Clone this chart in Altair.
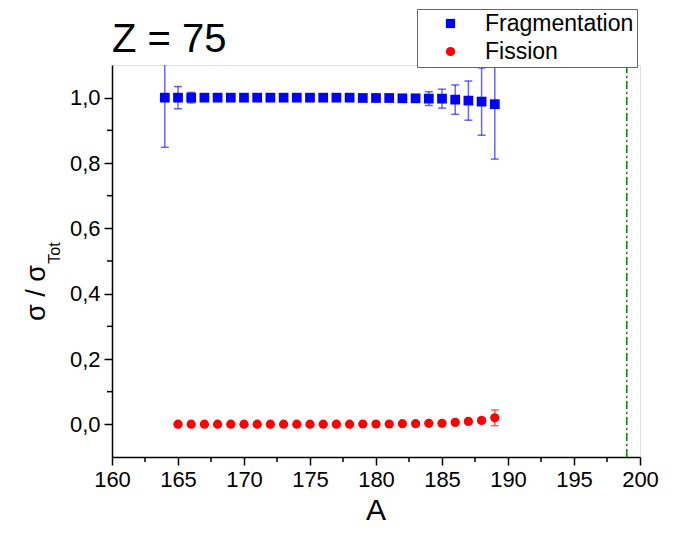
import altair as alt
import pandas as pd

# ---- data ----
frag_A = list(range(164, 190))
frag_val = [1.000] * 15 + [0.999, 0.999, 0.999, 0.998, 0.998,
                           0.997, 0.997, 0.994, 0.991, 0.988, 0.980]
frag_err = [0.152, 0.034, 0.016] + [0.002] * 16 + [0.005, 0.021, 0.029,
                                                   0.045, 0.060, 0.103, 0.168]

fis_A = list(range(165, 190))
fis_val = [0.0005] * 14 + [0.001, 0.001, 0.001, 0.002, 0.002,
                           0.003, 0.003, 0.006, 0.009, 0.012, 0.020]
fis_err = [0.001] * 21 + [0.002, 0.004, 0.007, 0.024]

series_names = ["Fragmentation", "Fission"]
series_colors = ["#0000ff", "#ff0000"]
series_shapes = ["square", "circle"]

limit_A = [199]
x_major = [160, 165, 170, 175, 180, 185, 190, 195, 200]
x_minor = [162.5, 167.5, 172.5, 177.5, 182.5, 187.5, 192.5, 197.5]
y_major = [0.0, 0.2, 0.4, 0.6, 0.8, 1.0]
y_minor = [0.1, 0.3, 0.5, 0.7, 0.9]

frag = pd.DataFrame({"A": frag_A, "v": frag_val, "e": frag_err})
frag["series"] = "Fragmentation"
fis = pd.DataFrame({"A": fis_A, "v": fis_val, "e": fis_err})
fis["series"] = "Fission"
df = pd.concat([frag, fis], ignore_index=True)
df["lo"] = df["v"] - df["e"]
df["hi"] = df["v"] + df["e"]

FONT = "Liberation Sans"

xscale = alt.Scale(domain=[160, 200], nice=False, zero=False)
yscale = alt.Scale(domain=[-0.1, 1.1], nice=False, zero=False)

xaxis = alt.Axis(values=x_major, title=None, grid=False, labelFontSize=22,
                 labelFont=FONT, labelColor="black", tickSize=8, tickWidth=1.5,
                 tickColor="black", domainColor="black", domainWidth=1.5,
                 labelPadding=4, format="d", orient="bottom",
                 labelFlush=False, labelOverlap=False)
yaxis = alt.Axis(values=y_major, title=None, grid=False, labelFontSize=22,
                 labelFont=FONT, labelColor="black", tickSize=8, tickWidth=1.5,
                 tickColor="black", domainColor="black", domainWidth=1.5,
                 labelPadding=4, orient="left", labelFlush=False, labelOverlap=False,
                 labelExpr="replace(format(datum.value, '.1f'), '.', ',')")

legend = alt.Legend(title=None, orient="none", legendX=305, legendY=-56,
                    strokeColor="#666666", fillColor="white",
                    padding=3, symbolOffset=19, labelOffset=23,
                    labelFontSize=23, labelFont=FONT, labelColor="black",
                    rowPadding=4, symbolSize=85, symbolStrokeWidth=0,
                    symbolOpacity=1)
color = alt.Color("series:N", scale=alt.Scale(domain=series_names, range=series_colors),
                  legend=legend)
shape = alt.Shape("series:N", scale=alt.Scale(domain=series_names, range=series_shapes),
                  legend=legend)

def X(field):
    return alt.X(field, type="quantitative", scale=xscale, axis=xaxis)

def Y(field):
    return alt.Y(field, type="quantitative", scale=yscale, axis=yaxis)

base = alt.Chart(df)

sq = base.transform_filter(alt.datum.series == "Fragmentation").mark_point(
    filled=True, size=95, opacity=1, clip=True).encode(
    x=X("A"), y=Y("v"), color=color, shape=shape)
ci = base.transform_filter(alt.datum.series == "Fission").mark_point(
    filled=True, size=85, opacity=1, clip=True).encode(
    x=X("A"), y=Y("v"), color=color, shape=shape)
bars = base.mark_rule(strokeWidth=1.5, opacity=0.6, clip=True).encode(
    x=X("A"), y=Y("lo"), y2="hi:Q", color=color)
cap_lo = base.mark_tick(orient="horizontal", size=8, thickness=1.5, opacity=0.6, clip=True).encode(
    x=X("A"), y=Y("lo"), color=color)
cap_hi = base.mark_tick(orient="horizontal", size=8, thickness=1.5, opacity=0.6, clip=True).encode(
    x=X("A"), y=Y("hi"), color=color)

vline = alt.Chart(pd.DataFrame({"A": limit_A})).mark_rule(
    color="#008000", strokeWidth=1.5, strokeDash=[8, 3, 2, 3]).encode(x=X("A"))

# minor ticks (outside the frame)
xminor = alt.Chart(pd.DataFrame({"A": x_minor})).mark_rule(
    color="black", strokeWidth=1.5).encode(x=X("A"), y=alt.value(392), y2=alt.value(397))
yminor = alt.Chart(pd.DataFrame({"v": y_minor})).mark_rule(
    color="black", strokeWidth=1.5).encode(y=Y("v"), x=alt.value(-5), x2=alt.value(0))

one = pd.DataFrame({"k": [0]})
title_txt = alt.Chart(one).mark_text(text="Z = 75", fontSize=40, font=FONT, align="left",
                                      baseline="alphabetic", color="black").encode(
    x=alt.value(0), y=alt.value(-13))
ylab = alt.Chart(one).mark_text(text="σ / σ", fontSize=27, font=FONT, align="center",
                                 baseline="alphabetic", angle=270, color="black").encode(
    x=alt.value(-67), y=alt.value(228))
ysub = alt.Chart(one).mark_text(text="Tot", fontSize=16, font=FONT, align="center",
                                 baseline="alphabetic", angle=270, color="black").encode(
    x=alt.value(-52), y=alt.value(188))
xlab = alt.Chart(one).mark_text(text="A", fontSize=30, font=FONT, align="center",
                                 baseline="alphabetic", color="black").encode(
    x=alt.value(264), y=alt.value(455))

chart = alt.layer(sq, ci, bars, cap_lo, cap_hi, vline, xminor, yminor,
                  title_txt, ylab, ysub, xlab).properties(
    width=528, height=392,
    autosize=alt.AutoSizeParams(type="none"),
    padding={"left": 104, "top": 57, "right": 29, "bottom": 71},
).configure_view(stroke="black", strokeWidth=1.5).configure(background="white")

chart.save("out.html", embed_options={"renderer": "svg", "actions": False})
